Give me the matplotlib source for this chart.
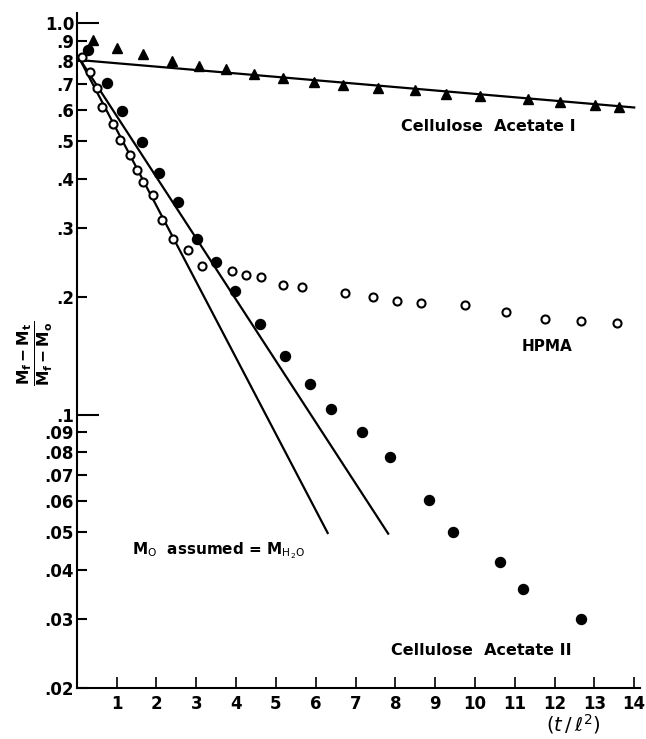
import numpy as np
import matplotlib.pyplot as plt

plt.rcParams['font.family'] = ['DejaVu Sans']
plt.rcParams['mathtext.fontset'] = 'dejavusans'

# Cellulose Acetate I (triangles)
ca1_x = [0.41, 1.01, 1.65, 2.38, 3.07, 3.74, 4.46, 5.18, 5.96, 6.69, 7.57,
         8.49, 9.27, 10.13, 11.34, 12.14, 13.02, 13.63]
ca1_y = [0.905, 0.862, 0.832, 0.800, 0.778, 0.762, 0.741, 0.724, 0.709, 0.695,
         0.681, 0.675, 0.658, 0.652, 0.641, 0.628, 0.618, 0.612]

# Cellulose Acetate II (filled circles)
ca2_x = [0.28, 0.75, 1.14, 1.63, 2.06, 2.55, 3.02, 3.50, 3.98, 4.60, 5.24,
         5.85, 6.38, 7.17, 7.86, 8.84, 9.46, 10.62, 11.21, 12.66]
ca2_y = [0.853, 0.702, 0.597, 0.498, 0.414, 0.350, 0.281, 0.245, 0.207, 0.170,
         0.141, 0.120, 0.103, 0.0903, 0.078, 0.0604, 0.0502, 0.0419, 0.0359, 0.0301]

# HPMA (open circles)
hp_x = [0.14, 0.34, 0.51, 0.64, 0.90, 1.08, 1.33, 1.50, 1.67, 1.90, 2.13, 2.42,
        2.78, 3.15, 3.89, 4.24, 4.62, 5.17, 5.66, 6.73, 7.43, 8.03, 8.64, 9.75,
        10.78, 11.76, 12.66, 13.56]
hp_y = [0.821, 0.751, 0.681, 0.612, 0.552, 0.503, 0.461, 0.422, 0.392, 0.363,
        0.314, 0.281, 0.264, 0.240, 0.232, 0.227, 0.224, 0.214, 0.212, 0.204,
        0.200, 0.195, 0.193, 0.190, 0.183, 0.175, 0.173, 0.171]

# fitted straight lines (end points)
fit_ca1 = ([0.07, 14.0], [0.805, 0.609])
fit_ca2 = ([0.07, 7.82], [0.81, 0.0496])
fit_hp = ([0.07, 6.3], [0.81, 0.0498])

yticks = [1.0, 0.9, 0.8, 0.7, 0.6, 0.5, 0.4, 0.3, 0.2, 0.1,
          0.09, 0.08, 0.07, 0.06, 0.05, 0.04, 0.03, 0.02]
ylabels = ['1.0', '.9', '.8', '.7', '.6', '.5', '.4', '.3', '.2', '.1',
           '.09', '.08', '.07', '.06', '.05', '.04', '.03', '.02']
xticks = list(range(1, 15))

fig = plt.figure(figsize=(6.46, 7.39), dpi=100)
ax = fig.add_axes([0.119, 0.069, 0.872, 0.913])

ax.plot(*fit_ca1, color='black', lw=1.6)
ax.plot(*fit_ca2, color='black', lw=1.6)
ax.plot(*fit_hp, color='black', lw=1.6)

ax.plot(ca1_x, ca1_y, '^', color='black', ms=7.5, ls='none')
ax.plot(ca2_x, ca2_y, 'o', color='black', ms=7.2, ls='none')
ax.plot(hp_x, hp_y, 'o', mfc='white', mec='black', mew=1.5, ms=5.8, ls='none')

ax.set_yscale('log')
ax.set_xlim(0, 14.15)
ax.set_ylim(0.02, 1.06)
ax.minorticks_off()
ax.set_yticks(yticks)
ax.set_yticklabels(ylabels)
ax.set_xticks(xticks)
ax.set_xticklabels([str(v) for v in xticks])

for s in ['top', 'right']:
    ax.spines[s].set_visible(False)
for s in ['left', 'bottom']:
    ax.spines[s].set_linewidth(1.5)

ax.tick_params(axis='y', direction='in', length=7, width=1.5, pad=2,
               labelsize=12)
ax.tick_params(axis='x', direction='in', length=8, width=1.2, pad=5,
               labelsize=12)
# longer ticks at the decades
for t in ax.yaxis.get_major_ticks():
    if t.get_loc() in (1.0, 0.1):
        t.tick1line.set_markersize(16)
for lab in ax.get_xticklabels() + ax.get_yticklabels():
    lab.set_fontweight('bold')

ax.text(10.33, 0.543, 'Cellulose  Acetate I', ha='center', va='center',
        fontsize=11.5, fontweight='bold')
ax.text(11.81, 0.149, 'HPMA', ha='center', va='center',
        fontsize=11, fontweight='bold')
ax.text(10.15, 0.0249, 'Cellulose  Acetate II', ha='center', va='center',
        fontsize=11.5, fontweight='bold')
ax.text(1.38, 0.0448, r'M$_\mathrm{O}$  assumed = M$_\mathrm{H_2O}$',
        ha='left', va='center', fontsize=11, fontweight='bold')

fig.text(0.054, 0.522, r'$\mathbf{\frac{M_f - M_t}{M_f - M_o}}$',
         rotation=90, ha='center', va='center', fontsize=16)
fig.text(0.887, 0.004, r'$(t\,/\,\ell^{2})$', ha='center', va='bottom',
         fontsize=14)

plt.savefig('out.png', dpi=100)
